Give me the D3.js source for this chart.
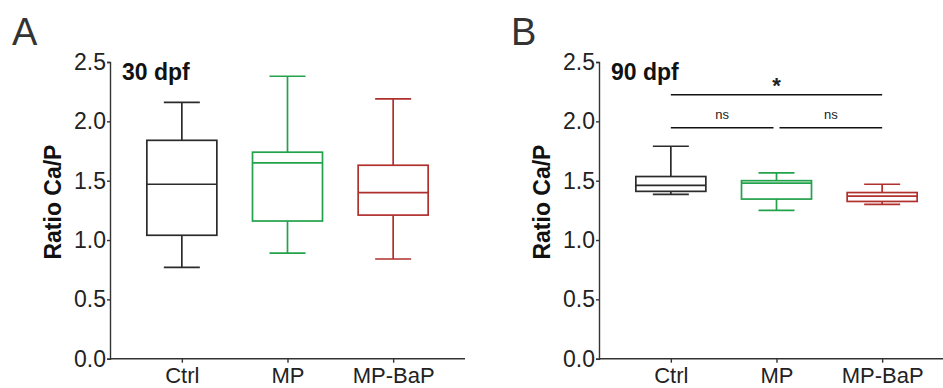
<!DOCTYPE html>
<html>
<head>
<meta charset="utf-8">
<script src="https://cdn.jsdelivr.net/npm/d3@7"></script>
<style>
  body { margin: 0; background: #fff; }
  svg { display: block; font-family: Arial, "Liberation Sans", sans-serif; }
</style>
</head>
<body>
<svg id="chart" width="943" height="388"></svg>
<script>
const categories = ['Ctrl', 'MP', 'MP-BaP'];
const colors = ['#2b2b2b', '#22a24a', '#b0302e'];
const yTicks = [0, 0.5, 1.0, 1.5, 2.0, 2.5];

// [min, q1, median, q3, max]
const stats30 = [
  [0.77, 1.04, 1.47, 1.84, 2.16],
  [0.89, 1.16, 1.65, 1.74, 2.38],
  [0.84, 1.21, 1.40, 1.63, 2.19]
];
const stats90 = [
  [1.385, 1.41, 1.46, 1.535, 1.79],
  [1.25, 1.345, 1.48, 1.50, 1.565],
  [1.30, 1.325, 1.37, 1.40, 1.47]
];

// significance bars for 90 dpf: [from, to, level, label]
const sigBars = [
  ['Ctrl', 'MP-BaP', 2.225, '*'],
  ['Ctrl', 'MP', 1.945, 'ns'],
  ['MP', 'MP-BaP', 1.945, 'ns']
];

const svg = d3.select('#chart');

const y = d3.scaleLinear().domain([0, 2.5]).range([358.7, 62]);

function drawPanel(offsetX, letter, title, stats, sig) {
  const g = svg.append('g').attr('transform', `translate(${offsetX},0)`);
  const x = d3.scalePoint().domain(categories).range([110, 465]).padding(0.68);

  g.append('text')
    .attr('x', letter === 'A' ? 12 : 22)
    .attr('y', 45)
    .attr('font-size', 38)
    .attr('fill', '#333')
    .text(letter);

  // y axis
  const yAxis = g.append('g')
    .attr('transform', 'translate(110,0)')
    .call(d3.axisLeft(y).tickValues(yTicks).tickFormat(d3.format('.1f')).tickSize(3).tickPadding(1));
  yAxis.select('.domain').attr('stroke', '#333').attr('stroke-width', 1.4);
  yAxis.selectAll('.tick line').attr('stroke', '#333').attr('stroke-width', 1.4);
  yAxis.selectAll('.tick text').attr('font-size', 23).attr('fill', '#222')
    .attr('font-family', 'Arial, "Liberation Sans", sans-serif');

  // x axis
  const xAxis = g.append('g')
    .attr('transform', `translate(0,${y(0)})`)
    .call(d3.axisBottom(x).tickSize(4).tickSizeOuter(0).tickPadding(5));
  xAxis.select('.domain').attr('stroke', '#333').attr('stroke-width', 1.4)
    .attr('d', `M110,0H465`);
  xAxis.selectAll('.tick line').attr('stroke', '#333').attr('stroke-width', 1.4);
  xAxis.selectAll('.tick text').attr('font-size', 22).attr('fill', '#222')
    .attr('font-family', 'Arial, "Liberation Sans", sans-serif');

  // y title
  g.append('text')
    .attr('transform', `translate(61,${(y(0.82) + y(1.82)) / 2}) rotate(-90)`)
    .attr('text-anchor', 'middle')
    .attr('font-size', 23)
    .attr('font-weight', 'bold')
    .attr('fill', '#111')
    .text('Ratio Ca/P');

  g.append('text')
    .attr('x', 122)
    .attr('y', 80)
    .attr('font-size', 23)
    .attr('font-weight', 'bold')
    .attr('fill', '#111')
    .text(title);

  const boxW = 70, capW = 36;
  stats.forEach((s, i) => {
    const cx = x(categories[i]);
    const c = colors[i];
    const bg = g.append('g').attr('stroke', c).attr('stroke-width', 1.7).attr('fill', 'none');
    bg.append('line').attr('x1', cx).attr('x2', cx).attr('y1', y(s[0])).attr('y2', y(s[1]));
    bg.append('line').attr('x1', cx).attr('x2', cx).attr('y1', y(s[3])).attr('y2', y(s[4]));
    bg.append('line').attr('x1', cx - capW / 2).attr('x2', cx + capW / 2).attr('y1', y(s[0])).attr('y2', y(s[0]));
    bg.append('line').attr('x1', cx - capW / 2).attr('x2', cx + capW / 2).attr('y1', y(s[4])).attr('y2', y(s[4]));
    bg.append('rect')
      .attr('x', cx - boxW / 2)
      .attr('y', y(s[3]))
      .attr('width', boxW)
      .attr('height', y(s[1]) - y(s[3]))
      .attr('fill', '#fff');
    bg.append('line').attr('x1', cx - boxW / 2).attr('x2', cx + boxW / 2).attr('y1', y(s[2])).attr('y2', y(s[2]));
  });

  if (sig) {
    sig.forEach(([a, b, lvl, label]) => {
      let x1 = x(a), x2 = x(b);
      if (label === 'ns') {
        if (a === 'MP') x1 += 3; else x2 -= 3;
      }
      g.append('line')
        .attr('x1', x1).attr('x2', x2)
        .attr('y1', y(lvl)).attr('y2', y(lvl))
        .attr('stroke', '#111').attr('stroke-width', 1.5);
      g.append('text')
        .attr('x', (x1 + x2) / 2)
        .attr('y', label === '*' ? y(lvl) - 2 : y(lvl) - 9)
        .attr('text-anchor', 'middle')
        .attr('font-size', label === '*' ? 22 : 13)
        .attr('font-weight', label === '*' ? 'bold' : 'normal')
        .attr('fill', '#222')
        .text(label);
    });
  }
}

drawPanel(0, 'A', '30 dpf', stats30, null);
drawPanel(489, 'B', '90 dpf', stats90, sigBars);
</script>
</body>
</html>
